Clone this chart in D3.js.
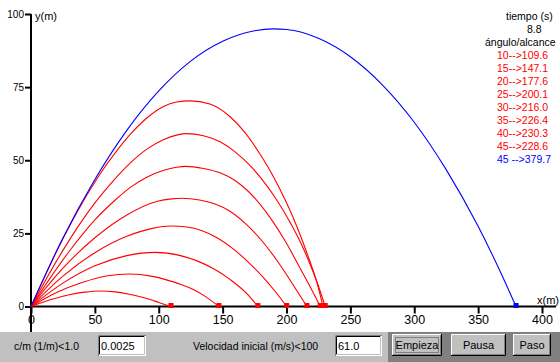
<!DOCTYPE html>
<html>
<head>
<meta charset="utf-8">
<script src="https://cdn.jsdelivr.net/npm/d3@7"></script>
<style>
	body { margin: 0; background: #fff; }
	svg { display: block; }
	text { font-family: "Liberation Sans", Arial, sans-serif; }
</style>
</head>
<body>
<div id="chart"></div>
<script>
'use strict';
(function(){

	// datos
	var angulos = [10, 15, 20, 25, 30, 35, 40, 45];
	var alcances = [109.6, 147.1, 177.6, 200.1, 216.0, 226.4, 230.3, 228.6];
	var anguloVacio = 45;
	var alcanceVacio = 379.7;
	var tiempo = '8.8';
	var cmValor = '0.0025';
	var v0Valor = '61.0';

	var xTicks = [0, 50, 100, 150, 200, 250, 300, 350, 400];
	var yTicks = [0, 25, 50, 75, 100];

	// trayectorias con rozamiento, [x, y] en metros
	var tray10 = [[0,0],[15,2.3],[30,4.0],[42,4.9],[54,5.3],[66,5.0],[78,4.1],[90,2.8],[100,1.4],[109.6,0]];
	var tray15 = [[0,0],[20,4.8],[40,8.2],[60,10.5],[77,11.1],[95,10.3],[106,9.1],[117,7.6],[127,5.8],[137,3.3],[147.1,0]];
	var tray20 = [[0,0],[25,8.0],[50,13.9],[75,17.4],[97,18.5],[117,17.4],[130,15.6],[143,12.9],[156,9.2],[169,4.4],[177.6,0]];
	var tray25 = [[0,0],[25,10.4],[50,18.4],[75,24.0],[95,26.7],[110,27.5],[122,27.2],[134,25.9],[146,23.4],[158,19.8],[170,15.2],[182,9.9],[192,4.7],[200.1,0]];
	var tray30 = [[0,0],[25,13.1],[50,23.5],[75,31.3],[99,36.0],[110,36.8],[118,37.0],[132,36.4],[143,35.2],[156,32.5],[169,27.9],[182,21.8],[195,14.2],[205.5,7.2],[216,0]];
	var tray35 = [[0,0],[30,18.9],[50,29.6],[66,36.4],[78,40.8],[91,44.3],[104,46.6],[114,47.6],[121,47.9],[135,47.2],[148,45.7],[160,43.0],[170,39.4],[180,34.6],[190,28.6],[200,21.6],[210,13.6],[218,7.2],[226.4,0]];
	var tray40 = [[0,0],[25,19.2],[50,35.4],[64,42.8],[78,49.2],[91,53.9],[104,57.1],[114,58.6],[121.4,59.1],[135,58.4],[148,56.3],[160,52.8],[171,48.4],[182,42.8],[193,36.0],[202,29.4],[210,22.8],[217,16.0],[224,8.2],[230.3,0]];
	var tray45 = [[0,0],[20,18.8],[40,35.3],[55,45.9],[65,52.0],[78,59.0],[90,64.2],[103,68.2],[114,69.9],[124.5,70.3],[140,69.2],[155,65.2],[168,59.2],[180,51.6],[190,44.2],[199,36.4],[206,29.6],[212,23.0],[218,15.8],[223.5,8.7],[228.6,0]];
	// sin rozamiento
	var trayVacio = [[0,0],[25,23.4],[50,43.4],[75,60.2],[100,73.7],[125,83.9],[150,90.7],[175,94.3],[190,94.9],[200,94.7],[225,91.7],[250,85.4],[275,75.8],[300,63.0],[325,46.8],[350,27.4],[365,14.1],[379.7,0]];

	var trayectorias = [tray10, tray15, tray20, tray25, tray30, tray35, tray40, tray45];

	var width = 560, height = 362;

	var svg = d3.select('#chart')
		.append('svg')
		.attr('width', width)
		.attr('height', height);

	var x = d3.scaleLinear().domain([0, 400]).range([31, 542]);
	var y = d3.scaleLinear().domain([0, 100]).range([306.5, 14]);

	// ejes
	var gx = svg.append('g')
		.attr('transform', 'translate(0,' + y(0) + ')')
		.call(d3.axisBottom(x).tickValues(xTicks).tickSize(7).tickPadding(2));
	gx.select('.domain').remove();
	gx.selectAll('line').attr('stroke-width', 2);
	gx.selectAll('text').attr('font-size', 12.5).attr('fill', '#000');

	var gy = svg.append('g')
		.attr('transform', 'translate(' + x(0) + ',0)')
		.call(d3.axisLeft(y).tickValues(yTicks).tickSize(6).tickPadding(1));
	gy.select('.domain').remove();
	gy.selectAll('line').attr('stroke-width', 2);
	gy.selectAll('text').attr('font-size', 10).attr('fill', '#000');

	svg.append('line')
		.attr('x1', x(0)).attr('x2', x(0))
		.attr('y1', y(100)).attr('y2', 332)
		.attr('stroke', '#000').attr('stroke-width', 2);
	svg.append('line')
		.attr('x1', x(0)).attr('x2', 556)
		.attr('y1', y(0)).attr('y2', y(0))
		.attr('stroke', '#000').attr('stroke-width', 2);

	svg.append('text').attr('x', 35).attr('y', 20)
		.attr('font-size', 11).text('y(m)');
	svg.append('text').attr('x', 537).attr('y', 304)
		.attr('font-size', 11).text('x(m)');

	// trayectorias
	var linea = d3.line()
		.x(function (d) { return x(d[0]); })
		.y(function (d) { return y(d[1]); })
		.curve(d3.curveMonotoneX);

	svg.selectAll('path.roz')
		.data(trayectorias)
		.enter()
		.append('path')
		.attr('class', 'roz')
		.attr('d', linea)
		.attr('fill', 'none')
		.attr('stroke', '#ff0000')
		.attr('stroke-width', 1.1);

	svg.append('path')
		.datum(trayVacio)
		.attr('d', linea)
		.attr('fill', 'none')
		.attr('stroke', '#0000ff')
		.attr('stroke-width', 1.1);

	// puntos de impacto
	svg.selectAll('rect.imp')
		.data(alcances)
		.enter()
		.append('rect')
		.attr('class', 'imp')
		.attr('x', function (d) { return x(d) - 2.5; })
		.attr('y', y(0) - 3.5)
		.attr('width', 5).attr('height', 5)
		.attr('fill', '#ff0000');

	svg.append('rect')
		.attr('x', x(alcanceVacio) - 2.5)
		.attr('y', y(0) - 3.5)
		.attr('width', 5).attr('height', 5)
		.attr('fill', '#0000ff');

	// leyenda
	var leyenda = svg.append('g').attr('font-size', 10.5);
	leyenda.append('text').attr('x', 506).attr('y', 20).text('tiempo (s)');
	leyenda.append('text').attr('x', 527).attr('y', 33).text(tiempo);
	leyenda.append('text').attr('x', 485).attr('y', 46).text('ángulo/alcance');
	leyenda.selectAll('text.fila')
		.data(angulos)
		.enter()
		.append('text')
		.attr('class', 'fila')
		.attr('x', 497)
		.attr('y', function (d, i) { return 59 + 13 * i; })
		.attr('fill', '#ff0000')
		.text(function (d, i) { return d + '-->' + alcances[i].toFixed(1); });
	leyenda.append('text')
		.attr('x', 497)
		.attr('y', 59 + 13 * angulos.length)
		.attr('fill', '#0000ff')
		.text(anguloVacio + ' -->' + alcanceVacio.toFixed(1));

	// panel de controles
	var panel = svg.append('g');
	panel.append('rect').attr('x', 0).attr('y', 332).attr('width', width).attr('height', 30).attr('fill', '#c0c0c0');
	panel.append('rect').attr('x', 388).attr('y', 332).attr('width', width - 388).attr('height', 30).attr('fill', '#808080');

	function caja(x0, y0, w, h, txt) {
		panel.append('rect').attr('x', x0).attr('y', y0).attr('width', w).attr('height', h).attr('fill', '#fff');
		panel.append('path').attr('d', 'M' + (x0 + 0.5) + ',' + (y0 + h) + 'V' + (y0 + 0.5) + 'H' + (x0 + w))
			.attr('fill', 'none').attr('stroke', '#808080');
		panel.append('path').attr('d', 'M' + (x0 + 1.5) + ',' + (y0 + h - 1) + 'V' + (y0 + 1.5) + 'H' + (x0 + w - 1))
			.attr('fill', 'none').attr('stroke', '#000');
		panel.append('path').attr('d', 'M' + (x0 + 1) + ',' + (y0 + h - 1.5) + 'H' + (x0 + w - 1.5) + 'V' + (y0 + 1))
			.attr('fill', 'none').attr('stroke', '#c0c0c0');
		panel.append('text').attr('x', x0 + 3).attr('y', y0 + 15).attr('font-size', 11).text(txt);
	}

	function boton(x0, y0, w, h, txt, foco) {
		panel.append('rect').attr('x', x0).attr('y', y0).attr('width', w).attr('height', h).attr('fill', '#c0c0c0');
		panel.append('path').attr('d', 'M' + (x0 + 0.5) + ',' + (y0 + h) + 'V' + (y0 + 0.5) + 'H' + (x0 + w))
			.attr('fill', 'none').attr('stroke', '#fff');
		panel.append('path').attr('d', 'M' + x0 + ',' + (y0 + h - 0.5) + 'H' + (x0 + w - 0.5) + 'V' + y0)
			.attr('fill', 'none').attr('stroke', '#000');
		panel.append('path').attr('d', 'M' + (x0 + 1) + ',' + (y0 + h - 1.5) + 'H' + (x0 + w - 1.5) + 'V' + (y0 + 1))
			.attr('fill', 'none').attr('stroke', '#808080');
		if (foco) {
			panel.append('rect').attr('x', x0 + 3.5).attr('y', y0 + 3.5).attr('width', w - 7).attr('height', h - 7)
				.attr('fill', 'none').attr('stroke', '#404040').attr('stroke-dasharray', '1,1');
		}
		panel.append('text').attr('x', x0 + w / 2).attr('y', y0 + 15).attr('text-anchor', 'middle')
			.attr('font-size', 11).text(txt);
	}

	panel.append('text').attr('x', 14).attr('y', 350).attr('font-size', 10.5).text('c/m (1/m)<1.0');
	caja(98, 335, 48, 21, cmValor);
	panel.append('text').attr('x', 193).attr('y', 350).attr('font-size', 10.5).text('Velocidad inicial (m/s)<100');
	caja(335, 335, 47, 21, v0Valor);
	boton(392, 334, 50, 22, 'Empieza', true);
	boton(451, 334, 55, 22, 'Pausa', false);
	boton(513, 334, 38, 22, 'Paso', false);

}());
</script>
</body>
</html>
